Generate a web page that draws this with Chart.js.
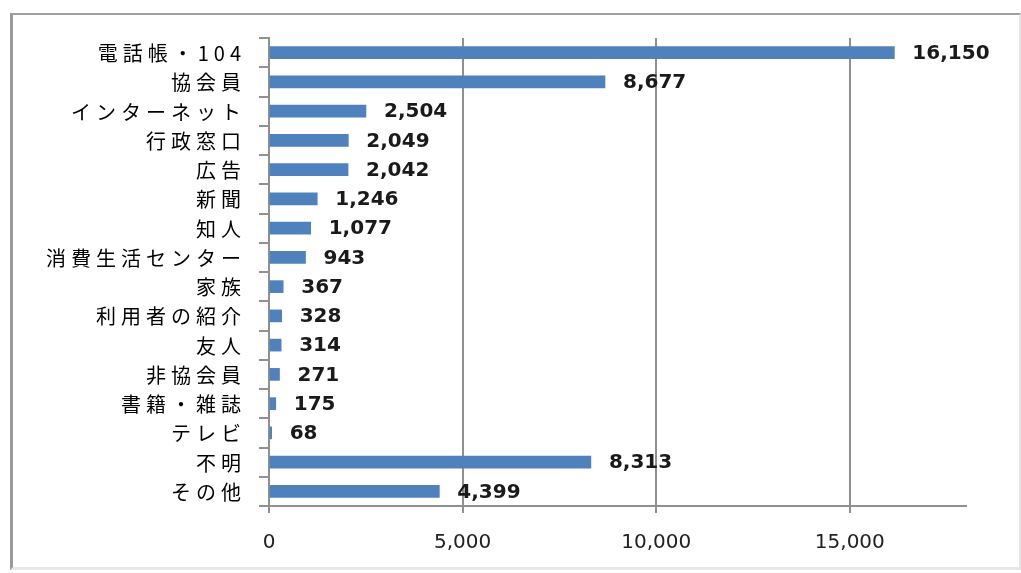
<!DOCTYPE html>
<html>
<head>
<meta charset="utf-8">
<script src="https://cdn.jsdelivr.net/npm/chart.js@4"></script>
<style>
  body { margin: 0; background: #fff; }
  #frame {
    position: absolute; left: 10px; top: 13px; width: 1006px; height: 552px;
    border-top: 2px solid #a0a0a0; border-left: 3px solid #9a9a9a;
    border-right: 2px solid #e4e4e4; border-bottom: 3px solid #e8e8e8;
  }
  #wrap { position: absolute; left: 0; top: 0; width: 1021px; height: 573px; }
</style>
</head>
<body>
<div id="frame"></div>
<div id="wrap"><canvas id="myChart"></canvas></div>
<script>
// 入手経路別の件数
var categories = ["電話帳・104", "協会員", "インターネット", "行政窓口", "広告", "新聞", "知人",
    "消費生活センター", "家族", "利用者の紹介", "友人", "非協会員", "書籍・雑誌", "テレビ", "不明", "その他"];
var counts = [16150, 8677, 2504, 2049, 2042, 1246, 1077, 943, 367, 328, 314, 271, 175, 68, 8313, 4399];
var axisMax = 18000;
var axisStep = 5000;

var lineColor = "#909090";

// y axis labels drawn by hand so the letter spacing can be widened
const categoryLabels = {
    id: "categoryLabels",
    afterDraw(chart) {
        const ctx = chart.ctx;
        const yScale = chart.scales.y;
        ctx.save();
        ctx.font = "20px 'Noto Sans CJK JP'";
        ctx.fillStyle = "#000";
        ctx.textAlign = "right";
        ctx.textBaseline = "middle";
        if ("letterSpacing" in ctx) ctx.letterSpacing = "5px";
        categories.forEach((label, i) => {
            const y = yScale.getPixelForTick(i);
            ctx.fillText(label, chart.chartArea.left - 23, y + 1);
        });
        ctx.restore();
    }
};

// value labels just past the end of each bar
const valueLabels = {
    id: "valueLabels",
    afterDatasetsDraw(chart) {
        const ctx = chart.ctx;
        const meta = chart.getDatasetMeta(0);
        ctx.save();
        ctx.font = "bold 20px 'DejaVu Sans'";
        ctx.fillStyle = "#1a1a1a";
        ctx.textAlign = "left";
        ctx.textBaseline = "middle";
        meta.data.forEach((bar, i) => {
            ctx.fillText(counts[i].toLocaleString("en-US"), bar.x + 18, bar.y + 1);
        });
        ctx.restore();
    }
};

// the axis ends at 18,000 but only multiples of 5,000 get a line and a label
function onStep(value) {
    return value % axisStep === 0;
}

new Chart("myChart", {
    type: "bar",
    data: {
        labels: categories,
        datasets: [{
            data: counts,
            backgroundColor: "#4f81bd",
            borderWidth: 0,
            barThickness: 12
        }]
    },
    options: {
        indexAxis: "y",
        responsive: true,
        maintainAspectRatio: false,
        animation: false,
        layout: { padding: { left: 0, top: 38, right: 55, bottom: 0 } },
        plugins: {
            legend: { display: false },
            tooltip: { enabled: false }
        },
        scales: {
            x: {
                beginAtZero: true,
                max: axisMax,
                bounds: "data",
                afterFit: function (scale) { scale.height = 67; },
                grid: {
                    color: function (c) { return c.tick && onStep(c.tick.value) ? lineColor : "rgba(0,0,0,0)"; },
                    lineWidth: 2,
                    tickLength: 7
                },
                border: { color: lineColor, width: 2 },
                ticks: {
                    stepSize: axisStep,
                    includeBounds: false,
                    padding: 18,
                    color: "#222",
                    font: { family: "'DejaVu Sans'", size: 20 },
                    callback: function (value) { return onStep(value) ? value.toLocaleString("en-US") : ""; }
                }
            },
            y: {
                afterFit: function (scale) { scale.width = 269; },
                grid: {
                    drawOnChartArea: false,
                    color: lineColor,
                    lineWidth: 2,
                    tickLength: 10
                },
                border: { color: lineColor, width: 2 },
                ticks: { display: false }
            }
        }
    },
    plugins: [categoryLabels, valueLabels]
});
</script>
</body>
</html>
